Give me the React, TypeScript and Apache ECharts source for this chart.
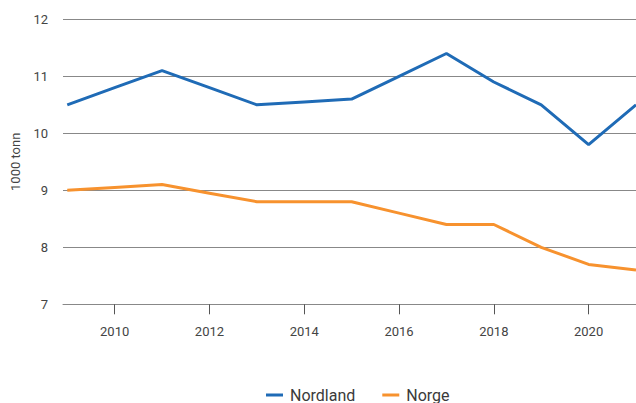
import React, { useEffect, useRef } from "react";
import * as echarts from "echarts";

const years = [2009, 2010, 2011, 2012, 2013, 2014, 2015, 2016, 2017, 2018, 2019, 2020, 2021];
const nordland = [10.5, 10.8, 11.1, 10.8, 10.5, 10.55, 10.6, 11.0, 11.4, 10.9, 10.5, 9.8, 10.5];
const norge = [9.0, 9.05, 9.1, 8.95, 8.8, 8.8, 8.8, 8.6, 8.4, 8.4, 8.0, 7.7, 7.6];
const xTickYears = [2010, 2012, 2014, 2016, 2018, 2020];
const seriesNames = ["Nordland", "Norge"];
const yAxisName = "1000 tonn";

const FONT = "Roboto, 'Noto Sans', sans-serif";

export default function App() {
  const ref = useRef<HTMLDivElement>(null);
  useEffect(() => {
    if (!ref.current) return;
    const chart = echarts.init(ref.current, undefined, { renderer: "svg" });
    chart.setOption({
      animation: false,
      textStyle: { fontFamily: FONT },
      grid: { left: 63, top: 19.3, width: 577.5, bottom: 98.7, containLabel: false },
      legend: {
        bottom: -5,
        left: 261,
        icon: "rect",
        itemWidth: 17,
        itemHeight: 3,
        itemGap: 27,
        textStyle: { fontSize: 16, color: "#3a3a3a", fontFamily: FONT, padding: [0, 0, 0, 2] },
        data: seriesNames,
      },
      xAxis: {
        type: "value",
        min: 2008.91,
        max: 2021,
        splitLine: { show: false },
        axisLine: { show: true, lineStyle: { color: "#888", width: 1 } },
        axisTick: { show: true, customValues: xTickYears, length: 10, lineStyle: { color: "#555" } },
        axisLabel: {
          customValues: xTickYears,
          margin: 21,
          fontSize: 13,
          color: "#444",
          fontFamily: FONT,
          formatter: (v: number) => String(v),
        },
      },
      yAxis: {
        type: "value",
        min: 7,
        max: 12,
        interval: 1,
        name: yAxisName,
        nameLocation: "middle",
        nameGap: 41,
        nameTextStyle: { fontSize: 13, color: "#444", fontFamily: FONT },
        axisLine: { show: false },
        axisTick: { show: false },
        axisLabel: { margin: 15, fontSize: 13, color: "#444", fontFamily: FONT },
        splitLine: { lineStyle: { color: "#888", width: 1 } },
      },
      series: [
        {
          name: seriesNames[0],
          type: "line",
          data: years.map((y, i) => [y, nordland[i]]),
          showSymbol: false,
          lineStyle: { color: "#1f6bb6", width: 3 },
          itemStyle: { color: "#1f6bb6" },
        },
        {
          name: seriesNames[1],
          type: "line",
          data: years.map((y, i) => [y, norge[i]]),
          showSymbol: false,
          lineStyle: { color: "#f7922e", width: 3 },
          itemStyle: { color: "#f7922e" },
        },
      ],
    });
    return () => chart.dispose();
  }, []);
  return (
    <div style={{ position: "absolute", left: 0, top: 0, width: 636, height: 403, overflow: "hidden" }}>
      <div ref={ref} style={{ width: 636, height: 403 }} />
    </div>
  );
}
